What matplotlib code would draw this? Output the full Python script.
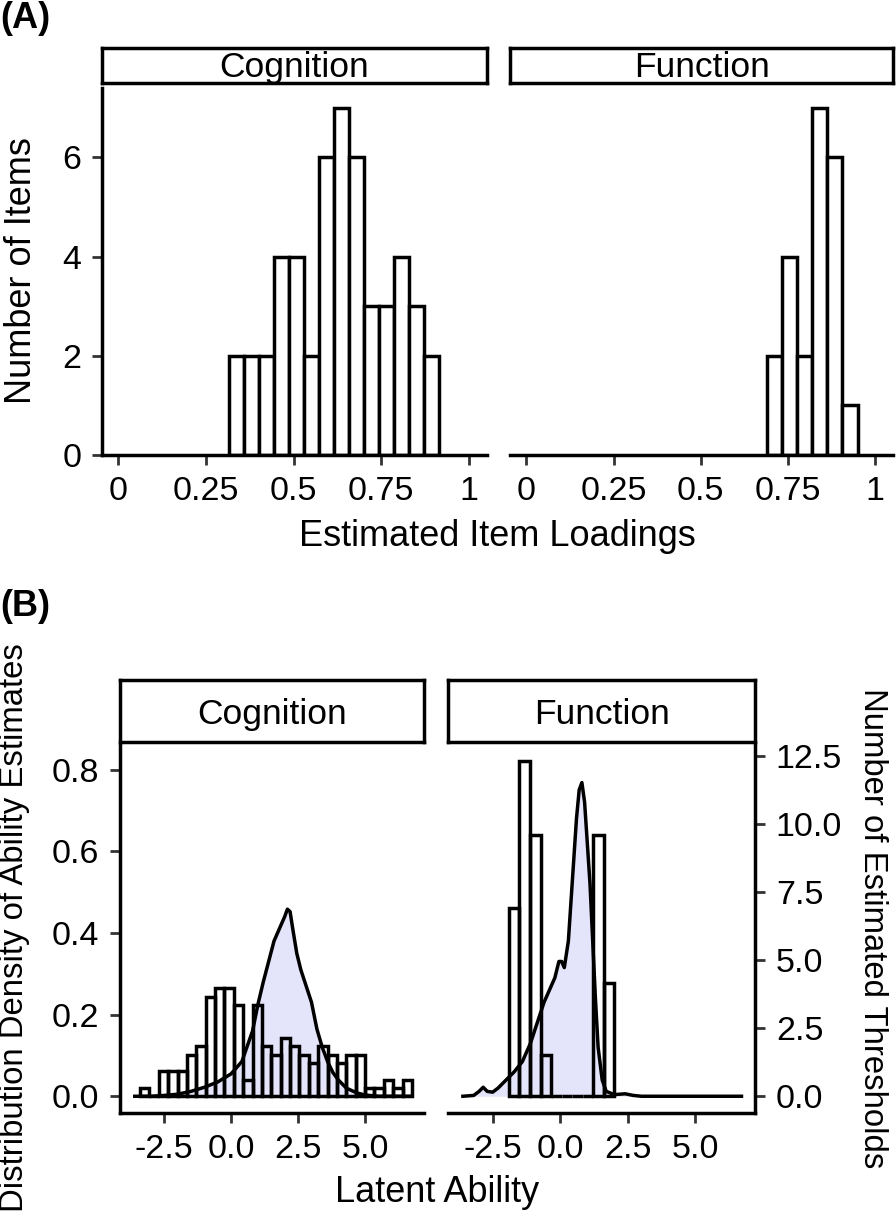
import matplotlib
matplotlib.use("Agg")
import matplotlib.pyplot as plt
from matplotlib.ticker import FormatStrFormatter

plt.rcParams['font.family'] = ['Liberation Sans', 'DejaVu Sans']

# ---- (A) estimated item loadings: histogram bins (left edges) and counts ----
cog_load_left = [0.315, 0.358, 0.401, 0.443, 0.486, 0.529, 0.572,
                 0.615, 0.657, 0.700, 0.743, 0.786, 0.829, 0.871]
cog_load_count = [2, 2, 2, 4, 4, 2, 6, 7, 6, 3, 3, 4, 3, 2]
cog_load_width = 0.0428

fun_load_left = [0.690, 0.733, 0.777, 0.820, 0.863, 0.907]
fun_load_count = [2, 4, 2, 7, 6, 1]
fun_load_width = 0.0433

load_ticks = [0, 0.25, 0.5, 0.75, 1]
load_labels = ["0", "0.25", "0.5", "0.75", "1"]

# ---- (B) estimated thresholds (right axis units) ----
cog_thr_left = [-3.40, -3.05, -2.70, -2.35, -2.00, -1.65, -1.30, -0.95, -0.60, -0.25,
                0.10, 0.45, 0.80, 1.15, 1.50, 1.85, 2.20, 2.55, 2.90, 3.25,
                3.60, 3.95, 4.30, 4.65, 5.00, 5.35, 5.70, 6.05, 6.40]
cog_thr_count = [0.30, 0.0, 0.91, 0.91, 0.91, 1.52, 1.83, 3.66, 3.96, 3.96,
                 3.35, 0.61, 3.35, 1.83, 1.52, 2.14, 1.83, 1.52, 1.22, 1.83,
                 1.52, 1.22, 1.52, 1.52, 0.30, 0.30, 0.61, 0.30, 0.61]
cog_thr_width = 0.35

fun_thr_left = [-1.90, -1.51, -1.12, -0.73, -0.34, 0.05, 0.44, 0.83, 1.22, 1.61]
fun_thr_count = [6.9, 12.3, 9.6, 1.5, 0, 0, 0, 0, 9.6, 4.15]
fun_thr_width = 0.39

# ---- (B) density of ability estimates ----
cog_dens_x = [-3.6, -3.0, -2.5, -2.0, -1.5, -1.0, -0.5, 0.0, 0.4, 0.8, 1.0, 1.2,
              1.4, 1.6, 1.8, 2.0, 2.1, 2.2, 2.3, 2.45, 2.6, 2.8, 3.0, 3.2, 3.4,
              3.6, 3.8, 4.0, 4.3, 4.7, 5.0, 5.5, 6.7]
cog_dens_y = [0.0, 0.0, 0.002, 0.005, 0.012, 0.022, 0.035, 0.055, 0.085, 0.16, 0.225, 0.28,
              0.33, 0.38, 0.41, 0.44, 0.458, 0.452, 0.41, 0.35, 0.31, 0.27, 0.23, 0.165, 0.12,
              0.085, 0.058, 0.04, 0.02, 0.008, 0.003, 0.0, 0.0]

fun_dens_x = [-3.6, -3.2, -3.0, -2.85, -2.7, -2.5, -2.3, -2.0, -1.7, -1.4, -1.1, -0.9,
              -0.6, -0.4, -0.2, -0.05, 0.05, 0.15, 0.3, 0.45, 0.6, 0.7, 0.8, 0.9,
              1.0, 1.1, 1.2, 1.3, 1.4, 1.55, 1.7, 2.0, 2.4, 2.7, 3.0, 6.7]
fun_dens_y = [0.0, 0.002, 0.012, 0.022, 0.012, 0.01, 0.02, 0.04, 0.06, 0.085, 0.13, 0.17,
              0.23, 0.26, 0.29, 0.33, 0.33, 0.315, 0.38, 0.53, 0.68, 0.75, 0.768, 0.72,
              0.62, 0.52, 0.38, 0.24, 0.12, 0.04, 0.012, 0.004, 0.006, 0.002, 0.0, 0.0]

ability_ticks = [-2.5, 0.0, 2.5, 5.0]
density_ticks = [0.0, 0.2, 0.4, 0.6, 0.8]
threshold_ticks = [0.0, 2.5, 5.0, 7.5, 10.0, 12.5]
count_per_density = 15.0

# ---- layout (pixel boxes) ----
W, H = 896, 1216
LW = 2.5
TICK_SIZE = 24.5
TITLE_SIZE = 26
VTITLE_B = 23.7
STRIP_SIZE = 25.5
PAD = 8
fill_col = '#e4e4fa'

fig = plt.figure(figsize=(W / 100, H / 100), dpi=100)


def box(l, t, r, b):
    return [l / W, 1 - b / H, (r - l) / W, (b - t) / H]


def strip(l, t, r, b, label):
    ax = fig.add_axes(box(l, t, r, b))
    ax.set_xticks([])
    ax.set_yticks([])
    for s in ax.spines.values():
        s.set_linewidth(LW)
    ax.text(0.5, 0.45, label, ha='center', va='center', fontsize=STRIP_SIZE,
            transform=ax.transAxes)


def style(ax, left=True):
    ax.spines['top'].set_visible(False)
    ax.spines['right'].set_visible(False)
    ax.spines['left'].set_visible(left)
    for s in ax.spines.values():
        s.set_linewidth(LW)
    ax.tick_params(direction='out', length=7, width=2, color='#333333',
                   labelsize=TICK_SIZE, pad=PAD)
    if not left:
        ax.tick_params(axis='y', left=False, labelleft=False)


# (A) panels
for (l, r), left, name, xs, ys, w in [((102, 487), True, "Cognition", cog_load_left, cog_load_count, cog_load_width),
                                      ((510, 893), False, "Function", fun_load_left, fun_load_count, fun_load_width)]:
    strip(l, 48, r, 83, name)
    ax = fig.add_axes(box(l, 88, r, 455))
    ax.bar(xs, ys, width=w, align='edge', facecolor='white', edgecolor='black', linewidth=LW)
    ax.set_xlim(-0.047, 1.052)
    ax.set_ylim(0, 7.4)
    ax.set_xticks(load_ticks)
    ax.set_xticklabels(load_labels)
    ax.set_yticks([0, 2, 4, 6])
    style(ax, left)

# (B) panels
panels_b = [((120, 424), True, "Cognition", cog_thr_left, cog_thr_count, cog_thr_width, cog_dens_x, cog_dens_y),
            ((448, 755), False, "Function", fun_thr_left, fun_thr_count, fun_thr_width, fun_dens_x, fun_dens_y)]
for (l, r), left, name, xs, cs, w, dx, dy in panels_b:
    strip(l, 680, r, 742, name)
    ax = fig.add_axes(box(l, 745, r, 1113))
    ax.fill_between(dx, dy, 0, color=fill_col, linewidth=0, zorder=1)
    ax.bar(xs, [c / count_per_density for c in cs], width=w, align='edge',
           facecolor='none', edgecolor='black', linewidth=LW, zorder=2)
    ax.plot(dx, dy, color='black', linewidth=LW, zorder=3)
    ax.set_xlim(-4.15, 7.2)
    ax.set_ylim(-0.041, 0.860)
    ax.set_xticks(ability_ticks)
    ax.xaxis.set_major_formatter(FormatStrFormatter('%.1f'))
    ax.set_yticks(density_ticks)
    ax.yaxis.set_major_formatter(FormatStrFormatter('%.1f'))
    style(ax, left)
    if not left:
        sec = ax.secondary_yaxis('right', functions=(lambda d: d * count_per_density,
                                                     lambda c: c / count_per_density))
        sec.set_yticks(threshold_ticks)
        sec.yaxis.set_major_formatter(FormatStrFormatter('%.1f'))
        sec.spines['right'].set_linewidth(LW)
        sec.tick_params(direction='out', length=7, width=2, color='#333333',
                        labelsize=TICK_SIZE, pad=PAD)

# labels
fig.text(0 / W, 1 - 18 / H, "(A)", fontsize=TITLE_SIZE, fontweight='bold', va='center', ha='left')
fig.text(0 / W, 1 - 607 / H, "(B)", fontsize=TITLE_SIZE, fontweight='bold', va='center', ha='left')
fig.text(22 / W, 1 - 271 / H, "Number of Items", fontsize=TITLE_SIZE, rotation=90,
         ha='center', va='center')
fig.text(497 / W, 1 - 537 / H, "Estimated Item Loadings", fontsize=TITLE_SIZE,
         ha='center', va='center')
fig.text(15 / W, 1 - 928 / H, "Distribution Density of Ability Estimates", fontsize=VTITLE_B,
         rotation=90, ha='center', va='center')
fig.text(437 / W, 1 - 1192 / H, "Latent Ability", fontsize=TITLE_SIZE, ha='center', va='center')
fig.text(872 / W, 1 - 928 / H, "Number of Estimated Thresholds", fontsize=VTITLE_B,
         rotation=270, ha='center', va='center')

fig.savefig("out.png", dpi=100)
